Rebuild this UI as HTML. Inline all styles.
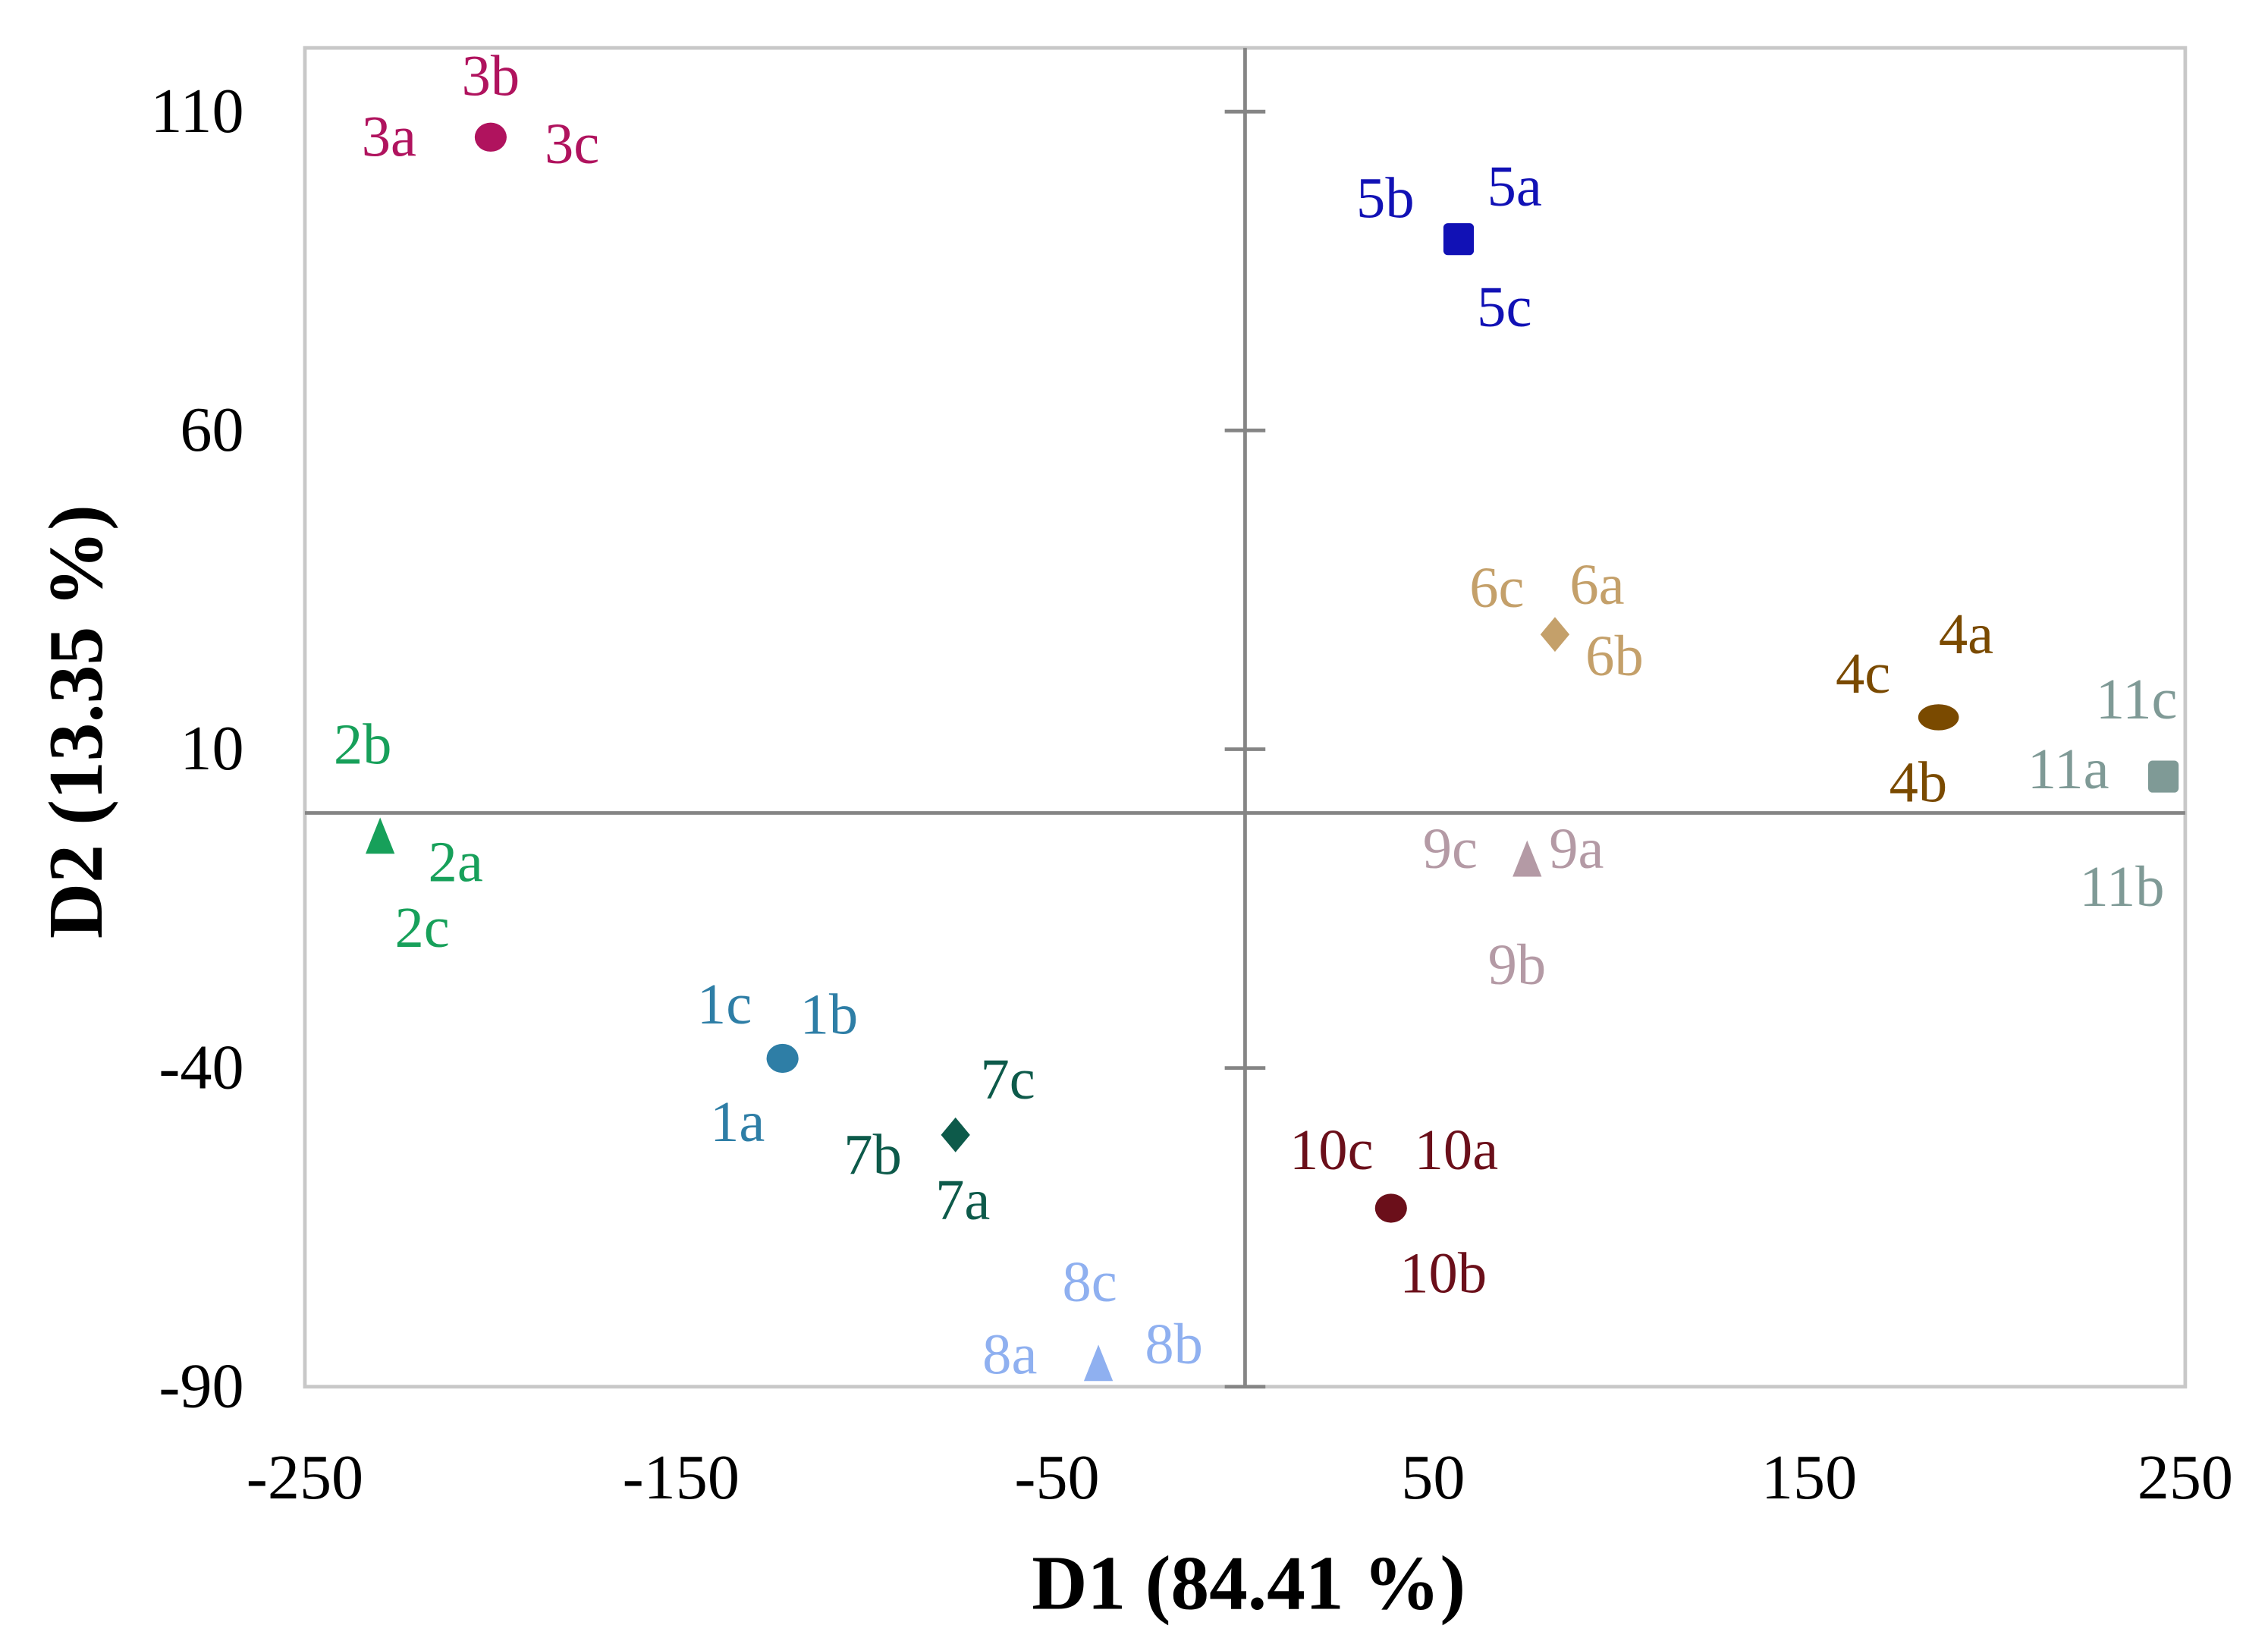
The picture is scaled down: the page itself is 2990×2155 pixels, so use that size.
<!DOCTYPE html>
<html><head><meta charset="utf-8"><style>
html,body{margin:0;padding:0;background:#fff;}
svg{display:block;}
text{font-family:"Liberation Serif",serif;}
</style></head><body>
<svg id="chart" width="2990" height="2155" viewBox="0 0 1562 1126" preserveAspectRatio="none" xmlns="http://www.w3.org/2000/svg">
<rect x="210" y="33" width="1295" height="922" fill="none" stroke="#c8c8c8" stroke-width="2.5"/>
<g id="axes"></g>
<g id="marks"></g>
<text x="860" y="1108" font-size="53" font-weight="bold" text-anchor="middle">D1 (84.41 %)</text>
<text transform="translate(70,497) rotate(-90)" font-size="53" font-weight="bold" text-anchor="middle">D2 (13.35 %)</text>
</svg>
<script>
const groups = ["1","2","3","4","5","6","7","8","9","10","11"];
const d1Values = [-123,-230,-200.6,184.4,56.6,82.4,-77,-39,75,38.8,244];
const d2Values = [-38.5,-3.9,106,15,90,28,-50.5,-86.6,-7.5,-62,5.7];
const markerShapes = ["circle","triangle","circle","oval","square","diamond","diamond","triangle","triangle","circle","square"];
const colors = ["#2e7ea6","#17a05a","#b0135e","#7a4a00","#1111b5","#c4a06a","#0d5a4a","#8fb0f0","#b49aa5","#6b0f1a","#7f9a96"];
const xTicks = [-250,-150,-50,50,150,250];
const yTicks = [110,60,10,-40,-90];
// label layout offsets (pixels, relative to marker) for replicates a,b,c
const labelOffsets = [
 [[-31,57],[32,-17],[-40,-24]],
 [[52,30],[-12,-51],[29,75]],
 [[-70,13],[0,-29],[56,18]],
 [[19,-44],[-14,58],[-52,-17]],
 [[39,-23],[-50,-15],[32,60]],
 [[29,-21],[41,28],[-40,-19]],
 [[5,58],[-57,27],[36,-25]],
 [[-61,6],[52,-1],[-6,-44]],
 [[34,5],[-7,85],[-53,5]],
 [[45,-27],[36,58],[-41,-27]],
 [[-65,8],[-28,89],[-18,-40]]
];
const X0=210,X1=1505,Y0=33,Y1=955;
function xs(v){return X0+(v+250)/500*(X1-X0);}
function ys(v){return Y0+(120-v)/210*(Y1-Y0);}
const NS="http://www.w3.org/2000/svg";
function mk(tag,attrs,parent){const e=document.createElementNS(NS,tag);for(const k in attrs)e.setAttribute(k,attrs[k]);parent.appendChild(e);return e;}
const axes=document.getElementById('axes'), marks=document.getElementById('marks');
let l=mk('line',{x1:xs(0),x2:xs(0),y1:Y0,y2:Y1,stroke:'#858585','stroke-width':2.5},axes);


l=mk('line',{x1:X0,x2:X1,y1:ys(0),y2:ys(0),stroke:'#858585','stroke-width':2.5},axes);


yTicks.forEach(t=>{
 const tk=mk('line',{x1:xs(0)-14,x2:xs(0)+14,y1:ys(t),y2:ys(t),stroke:'#858585','stroke-width':2.5},axes);
 
 
 const tx=mk('text',{x:168,y:ys(t)+14,'font-size':44,'text-anchor':'end'},axes);
 tx.textContent=t;
 
 
});
xTicks.forEach(t=>{
 const tx=mk('text',{x:xs(t),y:1032,'font-size':44,'text-anchor':'middle'},axes);
 tx.textContent=t;
 
 
});
groups.forEach((g,i)=>{
 const cx=xs(d1Values[i]), cy=ys(d2Values[i]), c=colors[i], s=markerShapes[i];
 let m;
 if(s==='circle') m=mk('ellipse',{cx:cx,cy:cy,rx:11,ry:10,fill:c},marks);
 else if(s==='oval') m=mk('ellipse',{cx:cx,cy:cy,rx:14,ry:9,fill:c},marks);
 else if(s==='square') m=mk('rect',{x:cx-10,y:cy-11,width:21,height:22,rx:3,fill:c},marks);
 else if(s==='diamond') m=mk('polygon',{points:`${cx},${cy-12} ${cx+10},${cy} ${cx},${cy+12} ${cx-10},${cy}`,fill:c},marks);
 else m=mk('polygon',{points:`${cx},${cy-14} ${cx+10},${cy+11} ${cx-10},${cy+11}`,fill:c},marks);
 
 
 ['a','b','c'].forEach((r,j)=>{
  const o=labelOffsets[i][j];
  const t=mk('text',{x:cx+o[0],y:cy+o[1],'font-size':40,'text-anchor':'middle',fill:c},marks);
  t.textContent=g+r;
  
  
 });
});
</script>
</body></html>
